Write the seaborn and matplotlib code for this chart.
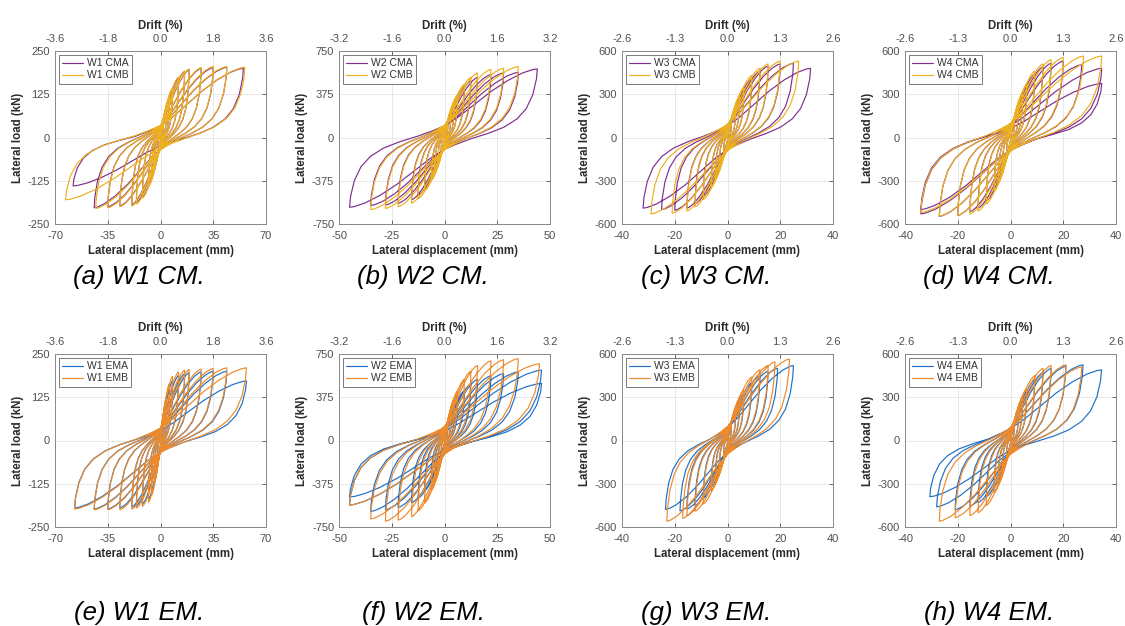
import numpy as np
import pandas as pd
import seaborn as sns
import matplotlib.pyplot as plt

# --- peak points of each cycle (disp in mm, load in kN) ---
# W1
w1_amp = [2, 4, 6, 8, 12, 16, 19, 27, 35, 44]
w1_cma_dpos = w1_amp + [55]
w1_cma_fpos = [45, 85, 115, 140, 172, 190, 196, 200, 202, 203, 200]
w1_cma_dneg = [-2, -4, -6, -8, -12, -16, -19, -27, -35, -44, -58]
w1_cma_fneg = [-45, -85, -115, -140, -172, -188, -195, -198, -200, -203, -140]
w1_cmb_dpos = w1_amp + [56]
w1_cmb_fpos = [45, 85, 115, 142, 175, 192, 198, 202, 205, 205, 203]
w1_cmb_dneg = [-2, -4, -6, -8, -12, -16, -19, -27, -35, -43, -63]
w1_cmb_fneg = [-45, -85, -115, -142, -175, -192, -198, -200, -203, -205, -180]
w1_ema_dpos = w1_amp + [57]
w1_ema_fpos = [65, 115, 150, 172, 188, 193, 196, 198, 200, 200, 172]
w1_ema_dneg = [-2, -4, -6, -8, -12, -16, -19, -27, -35, -44, -57]
w1_ema_fneg = [-65, -115, -150, -170, -183, -188, -192, -195, -198, -198, -195]
w1_emb_dpos = w1_amp + [57]
w1_emb_fpos = [75, 125, 165, 185, 198, 203, 205, 206, 208, 210, 210]
w1_emb_dneg = [-2, -4, -6, -8, -12, -16, -19, -27, -35, -44, -57]
w1_emb_fneg = [-70, -120, -158, -178, -190, -195, -198, -200, -200, -200, -198]

# W2
w2_amp = [1.6, 3.1, 4.7, 6.2, 9.4, 12.5, 15.6, 22, 28, 35]
w2_cma_dpos = w2_amp + [44]
w2_cma_fpos = [120, 220, 300, 360, 440, 490, 520, 545, 560, 565, 595]
w2_cma_dneg = [-1.6, -3.1, -4.7, -6.2, -9.4, -12.5, -15.6, -22, -28, -35, -45]
w2_cma_fneg = [-120, -220, -300, -360, -440, -500, -540, -570, -585, -590, -605]
w2_cmb_dpos = w2_amp
w2_cmb_fpos = [130, 230, 310, 370, 460, 520, 560, 590, 600, 615]
w2_cmb_dneg = [-1.6, -3.1, -4.7, -6.2, -9.4, -12.5, -15.6, -22, -28, -35]
w2_cmb_fneg = [-130, -230, -310, -370, -460, -530, -570, -600, -615, -625]
w2_ema_dpos = w2_amp + [46, 46]
w2_ema_fpos = [110, 200, 280, 340, 430, 490, 530, 560, 580, 595, 610, 495]
w2_ema_dneg = [-1.6, -3.1, -4.7, -6.2, -9.4, -12.5, -15.6, -22, -28, -35, -45, -45]
w2_ema_fneg = [-110, -200, -280, -340, -430, -500, -540, -580, -600, -615, -560, -490]
w2_emb_dpos = w2_amp + [45]
w2_emb_fpos = [140, 260, 360, 430, 530, 600, 650, 690, 700, 710, 665]
w2_emb_dneg = [-1.6, -3.1, -4.7, -6.2, -9.4, -12.5, -15.6, -22, -28, -35, -45]
w2_emb_fneg = [-140, -260, -360, -430, -540, -610, -660, -690, -700, -680, -560]

# W3
w3_amp = [1.5, 3.1, 4.6, 6.2, 9.2, 12.3, 15.4]
w3_cma_dpos = w3_amp + [20, 25, 31.5]
w3_cma_fpos = [110, 200, 270, 330, 410, 460, 495, 510, 515, 480]
w3_cma_dneg = [-1.5, -3.1, -4.6, -6.2, -9.2, -12.3, -15.4, -20, -25, -32]
w3_cma_fneg = [-110, -200, -270, -330, -410, -460, -490, -505, -500, -490]
w3_cmb_dpos = w3_amp + [20, 27]
w3_cmb_fpos = [120, 210, 285, 345, 430, 480, 510, 530, 530]
w3_cmb_dneg = [-1.5, -3.1, -4.6, -6.2, -9.2, -12.3, -15.4, -21, -29]
w3_cmb_fneg = [-120, -210, -285, -345, -430, -480, -510, -525, -530]
w3_ema_dpos = w3_amp + [19, 25]
w3_ema_fpos = [100, 190, 260, 320, 400, 450, 480, 500, 520]
w3_ema_dneg = [-1.5, -3.1, -4.6, -6.2, -9.2, -12.3, -15.4, -18, -23.5]
w3_ema_fneg = [-100, -190, -260, -320, -400, -450, -475, -488, -478]
w3_emb_dpos = w3_amp + [18, 23.5]
w3_emb_fpos = [110, 210, 290, 350, 440, 490, 520, 545, 565]
w3_emb_dneg = [-1.5, -3.1, -4.6, -6.2, -9.2, -12.3, -15.4, -17, -23]
w3_emb_fneg = [-110, -210, -290, -350, -440, -490, -520, -540, -560]

# W4
w4_amp = [1.5, 3.1, 4.6, 6.2, 9.2, 12.3, 15.4]
w4_cma_dpos = w4_amp + [20, 27, 34.6, 34.6]
w4_cma_fpos = [120, 220, 300, 360, 440, 490, 515, 530, 505, 480, 375]
w4_cma_dneg = [-1.5, -3.1, -4.6, -6.2, -9.2, -12.3, -15.4, -20, -27, -34, -34]
w4_cma_fneg = [-120, -220, -300, -360, -440, -490, -515, -540, -547, -530, -500]
w4_cmb_dpos = w4_amp + [20, 27.7, 34.6]
w4_cmb_fpos = [130, 230, 310, 370, 460, 510, 540, 555, 565, 565]
w4_cmb_dneg = [-1.5, -3.1, -4.6, -6.2, -9.2, -12.3, -15.4, -20, -27, -34]
w4_cmb_fneg = [-130, -230, -310, -370, -460, -510, -530, -540, -545, -520]
w4_ema_dpos = w4_amp + [21, 27.5, 34.5]
w4_ema_fpos = [110, 200, 280, 340, 420, 470, 500, 515, 525, 490]
w4_ema_dneg = [-1.5, -3.1, -4.6, -6.2, -9.2, -12.3, -15.4, -21, -28, -30.6]
w4_ema_fneg = [-110, -200, -270, -320, -390, -430, -455, -480, -460, -390]
w4_emb_dpos = w4_amp + [21, 27]
w4_emb_fpos = [120, 220, 300, 360, 450, 500, 520, 525, 510]
w4_emb_dneg = [-1.5, -3.1, -4.6, -6.2, -9.2, -12.3, -15.4, -21, -27]
w4_emb_fneg = [-120, -220, -300, -360, -450, -500, -520, -535, -560]

# normalised shape of one half cycle (peak -> opposite peak), traced from the outer W1 loop
TPL_X = [1.0, 0.99, 0.95, 0.88, 0.78, 0.64, 0.47, 0.28, 0.12, 0.0, -0.15, -0.32, -0.5, -0.68, -0.84, -0.95, -1.0]
TPL_F = [1.0, 0.85, 0.62, 0.42, 0.27, 0.15, 0.06, -0.02, -0.10, -0.17, -0.30, -0.48, -0.67, -0.83, -0.94, -0.99, -1.0]

# axis setup per wall
x_ticks = {'W1': [-70, -35, 0, 35, 70], 'W2': [-50, -25, 0, 25, 50],
           'W3': [-40, -20, 0, 20, 40], 'W4': [-40, -20, 0, 20, 40]}
y_ticks = {'W1': [-250, -125, 0, 125, 250], 'W2': [-750, -375, 0, 375, 750],
           'W3': [-600, -300, 0, 300, 600], 'W4': [-600, -300, 0, 300, 600]}
drift_labels = {'W1': ['-3.6', '-1.8', '0.0', '1.8', '3.6'],
                'W2': ['-3.2', '-1.6', '0.0', '1.6', '3.2'],
                'W3': ['-2.6', '-1.3', '0.0', '1.3', '2.6'],
                'W4': ['-2.6', '-1.3', '0.0', '1.3', '2.6']}

panels = [
    ('W1', 'CM', '(a) W1 CM.', [('W1 CMA', w1_cma_dpos, w1_cma_fpos, w1_cma_dneg, w1_cma_fneg),
                                ('W1 CMB', w1_cmb_dpos, w1_cmb_fpos, w1_cmb_dneg, w1_cmb_fneg)]),
    ('W2', 'CM', '(b) W2 CM.', [('W2 CMA', w2_cma_dpos, w2_cma_fpos, w2_cma_dneg, w2_cma_fneg),
                                ('W2 CMB', w2_cmb_dpos, w2_cmb_fpos, w2_cmb_dneg, w2_cmb_fneg)]),
    ('W3', 'CM', '(c) W3 CM.', [('W3 CMA', w3_cma_dpos, w3_cma_fpos, w3_cma_dneg, w3_cma_fneg),
                                ('W3 CMB', w3_cmb_dpos, w3_cmb_fpos, w3_cmb_dneg, w3_cmb_fneg)]),
    ('W4', 'CM', '(d) W4 CM.', [('W4 CMA', w4_cma_dpos, w4_cma_fpos, w4_cma_dneg, w4_cma_fneg),
                                ('W4 CMB', w4_cmb_dpos, w4_cmb_fpos, w4_cmb_dneg, w4_cmb_fneg)]),
    ('W1', 'EM', '(e) W1 EM.', [('W1 EMA', w1_ema_dpos, w1_ema_fpos, w1_ema_dneg, w1_ema_fneg),
                                ('W1 EMB', w1_emb_dpos, w1_emb_fpos, w1_emb_dneg, w1_emb_fneg)]),
    ('W2', 'EM', '(f) W2 EM.', [('W2 EMA', w2_ema_dpos, w2_ema_fpos, w2_ema_dneg, w2_ema_fneg),
                                ('W2 EMB', w2_emb_dpos, w2_emb_fpos, w2_emb_dneg, w2_emb_fneg)]),
    ('W3', 'EM', '(g) W3 EM.', [('W3 EMA', w3_ema_dpos, w3_ema_fpos, w3_ema_dneg, w3_ema_fneg),
                                ('W3 EMB', w3_emb_dpos, w3_emb_fpos, w3_emb_dneg, w3_emb_fneg)]),
    ('W4', 'EM', '(h) W4 EM.', [('W4 EMA', w4_ema_dpos, w4_ema_fpos, w4_ema_dneg, w4_ema_fneg),
                                ('W4 EMB', w4_emb_dpos, w4_emb_fpos, w4_emb_dneg, w4_emb_fneg)]),
]
colors = {'CM': ['#7E2F8E', '#EDB120'], 'EM': ['#1F6FC8', '#EC8A2C']}


def scale_half(tx, tf, d_hi, f_hi, d_lo, f_lo):
    # positive part scaled by the positive peak, negative part by the negative peak
    x = np.where(tx >= 0, tx * d_hi, tx * abs(d_lo))
    y = np.where(tf >= 0, tf * f_hi, tf * abs(f_lo))
    return x, y


def build_path(dpos, fpos, dneg, fneg):
    tx = np.array(TPL_X)
    tf = np.array(TPL_F)
    xs, ys = [0.0], [0.0]
    n = len(dpos)
    for i in range(n):
        x, y = scale_half(tx, tf, dpos[i], fpos[i], dneg[i], fneg[i])
        xs += list(x); ys += list(y)
        if i + 1 < n:
            x, y = scale_half(-tx, -tf, dpos[i + 1], fpos[i + 1], dneg[i], fneg[i])
            xs += list(x[1:]); ys += list(y[1:])
    # last return branch back to zero displacement
    x, y = scale_half(-tx, -tf, dpos[-1], fpos[-1], dneg[-1], fneg[-1])
    keep = x <= 0
    xs += list(x[keep][1:]); ys += list(y[keep][1:])
    return xs, ys


sns.set_theme(style="white")
plt.rcParams['font.family'] = ['Liberation Sans', 'DejaVu Sans']
plt.rcParams['axes.unicode_minus'] = False

W, H = 1125, 626
fig = plt.figure(figsize=(W / 100, H / 100), dpi=100)

col_left = [55, 339, 622, 905]
row_top = [51, 354]
ax_w, ax_h = 211, 173
cap_x = [139, 423, 706, 989]
cap_y = [277, 613]

tick_col = '#505050'
lab_col = '#2b2b2b'

for k, (wall, kind, caption, specimens) in enumerate(panels):
    r, c = divmod(k, 4)
    ax = fig.add_axes([col_left[c] / W, 1 - (row_top[r] + ax_h) / H, ax_w / W, ax_h / H])

    frames = []
    for name, dp, fp, dn, fn in specimens:
        xs, ys = build_path(dp, fp, dn, fn)
        frames.append(pd.DataFrame({'disp': xs, 'load': ys, 'spec': name}))
    df = pd.concat(frames, ignore_index=True)

    sns.lineplot(data=df, x='disp', y='load', hue='spec', palette=colors[kind],
                 sort=False, estimator=None, linewidth=0.85, ax=ax)

    xt, yt = x_ticks[wall], y_ticks[wall]
    ax.set_xlim(xt[0], xt[-1])
    ax.set_ylim(yt[0], yt[-1])
    ax.set_xticks(xt)
    ax.set_yticks(yt)
    ax.grid(True, color='#e4e4e4', linewidth=0.6)
    ax.set_axisbelow(True)
    ax.tick_params(direction='in', length=3, width=0.6, labelsize=8, colors=tick_col,
                   right=True)
    ax.tick_params(axis='x', pad=5)
    ax.tick_params(axis='y', pad=3.5)
    for s in ax.spines.values():
        s.set_color('#8a8a8a')
        s.set_linewidth(0.7)
    ax.set_xlabel('Lateral displacement (mm)', fontsize=8.3, fontweight='bold',
                  color=lab_col, labelpad=3)
    ax.set_ylabel('Lateral load (kN)', fontsize=8.3, fontweight='bold',
                  color=lab_col, labelpad=3)

    handles, labels = ax.get_legend_handles_labels()
    leg = ax.legend(handles, labels, loc='upper left', fontsize=7.5, frameon=True,
                    fancybox=False, framealpha=1, borderaxespad=0.4,
                    handlelength=2.0, borderpad=0.3, labelspacing=0.2, handletextpad=0.4)
    leg.get_frame().set_edgecolor('#7a7a7a')
    leg.get_frame().set_linewidth(0.7)
    for t in leg.get_texts():
        t.set_color('#333333')

    top = ax.twiny()
    top.set_xlim(ax.get_xlim())
    top.set_xticks(xt)
    top.set_xticklabels(drift_labels[wall])
    top.tick_params(direction='in', length=3, width=0.6, labelsize=8, colors=tick_col, pad=5)
    for s in top.spines.values():
        s.set_color('#8a8a8a')
        s.set_linewidth(0.7)
    top.set_xlabel('Drift (%)', fontsize=8.3, fontweight='bold', color=lab_col, labelpad=4)

    fig.text(cap_x[c] / W, 1 - cap_y[r] / H, caption, ha='center', va='center',
             fontsize=18.5, style='italic', color='black')

fig.savefig('out.png', dpi=100)
